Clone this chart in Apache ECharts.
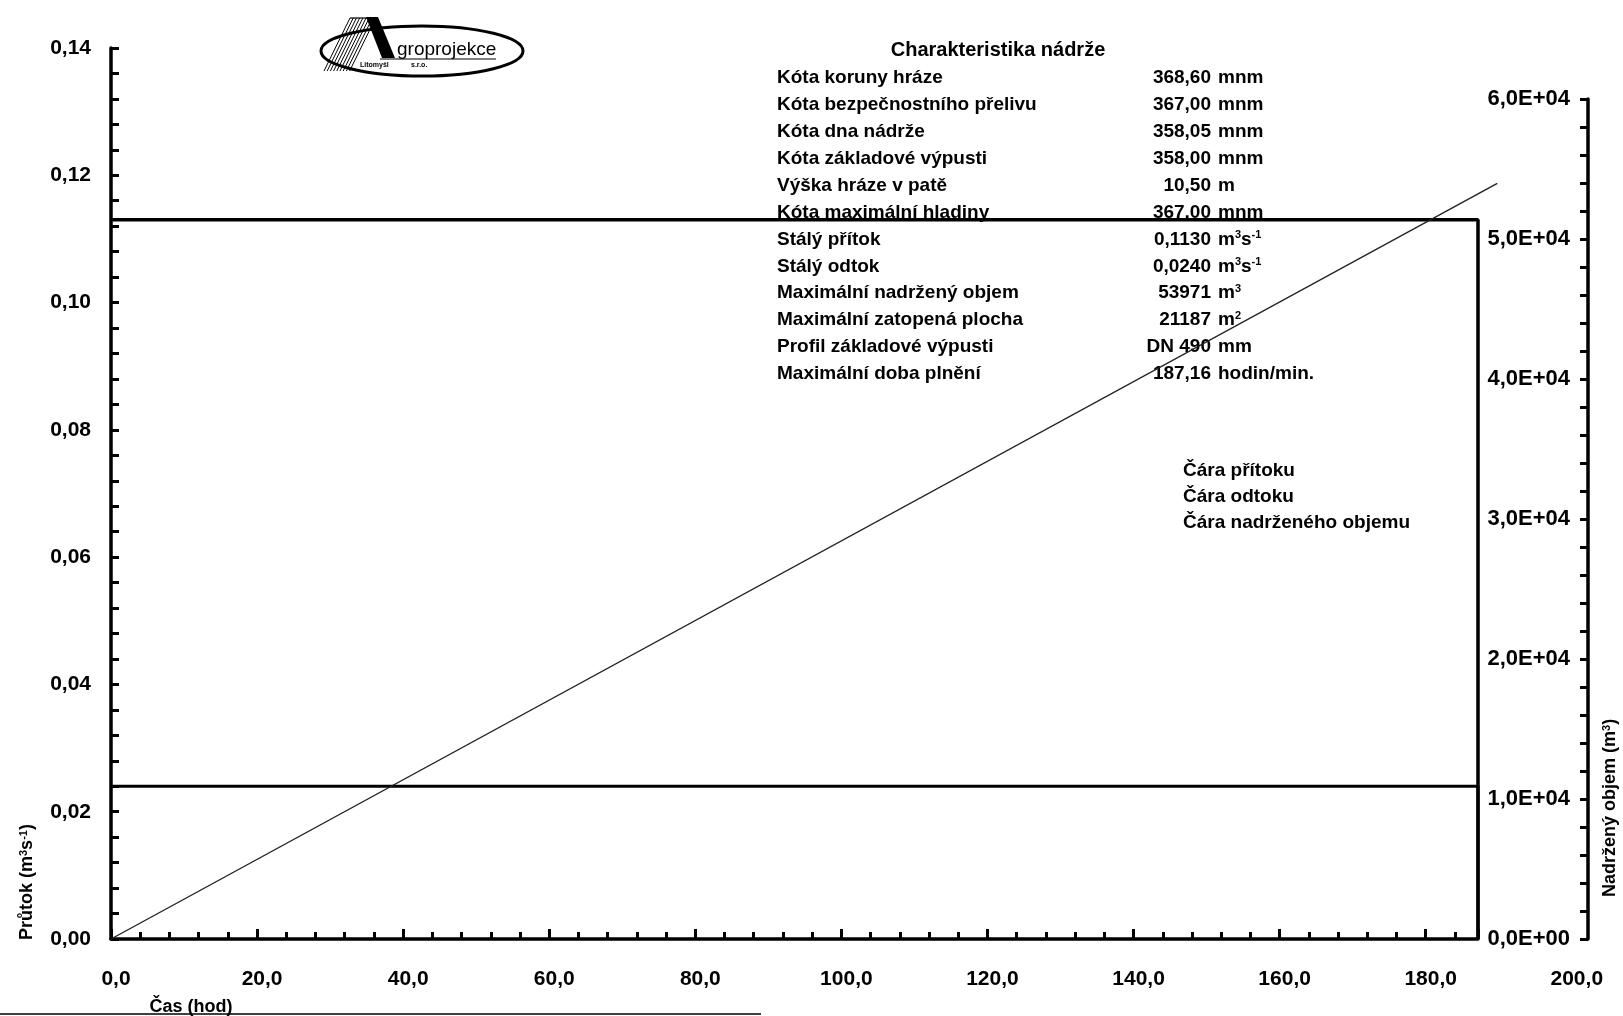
<!DOCTYPE html>
<html><head><meta charset="utf-8">
<script src="https://cdn.jsdelivr.net/npm/echarts@6/dist/echarts.min.js"></script>
<style>html,body{margin:0;padding:0;background:#fff}#c{width:1623px;height:1016px}</style>
</head><body><div id="c"></div>
<script>
// ---------- data ----------
const timeMax = 187.16;                     // h, max filling time
const inflowLine  = [[0, 0.113], [187.16, 0.113], [187.16, 0]];
const outflowLine = [[0, 0.024], [187.16, 0.024], [187.16, 0]];
const volumeLine  = [[0, 0], [189.8, 53971]];
const xTickLabels = ['0,0','20,0','40,0','60,0','80,0','100,0','120,0','140,0','160,0','180,0','200,0'];
const leftTickLabels = ['0,00','0,02','0,04','0,06','0,08','0,10','0,12','0,14'];
const rightTickLabels = ['0,0E+00','1,0E+04','2,0E+04','3,0E+04','4,0E+04','5,0E+04','6,0E+04'];
const legendNames = ['Čára přítoku','Čára odtoku','Čára nadrženého objemu'];
const tableTitle = 'Charakteristika nádrže';
const tableLabels = ['Kóta koruny hráze','Kóta bezpečnostního přelivu','Kóta dna nádrže','Kóta základové výpusti',
  'Výška hráze v patě','Kóta maximální hladiny','Stálý přítok','Stálý odtok','Maximální nadržený objem',
  'Maximální zatopená plocha','Profil základové výpusti','Maximální doba plnění'];
const tableValues = ['368,60','367,00','358,05','358,00','10,50','367,00','0,1130','0,0240','53971','21187','DN 490','187,16'];
const tableUnits = ['mnm','mnm','mnm','mnm','m','mnm','m{s|3}s{s|-1}','m{s|3}s{s|-1}','m{s|3}','m{s|2}','mm','hodin/min.'];

// ---------- layout ----------
const F = '"Liberation Sans", Arial, Helvetica, sans-serif';
const LEFT_X = 111, INNER_X = 1478, RIGHT_X = 1588;
const TOP_L = 48, BOTTOM = 939, TOP_R = 99;
const pxPerH = (INNER_X - LEFT_X) / timeMax;
const labelGridW = 200 * pxPerH;
const rightGridXMax = (RIGHT_X - LEFT_X) / pxPerH;

const sup = {fontSize: 11, fontWeight: 'bold', fontFamily: F, fill: '#000', verticalAlign: 'top', lineHeight: 11};
const txt = (x, y, text, opts) => ({
  type: 'text', x, y, silent: true, z: 50,
  style: Object.assign({text, fill: '#000', fontFamily: F, fontSize: 19, fontWeight: 'bold',
    align: 'left', verticalAlign: 'middle', textAlign: 'left', textVerticalAlign: 'middle',
    rich: {s: sup}}, opts || {})
});

const graphics = [];
graphics.push(txt(998, 50, tableTitle, {align: 'center', textAlign: 'center', fontSize: 20}));
tableLabels.forEach((l, i) => {
  const y = 78 + i * 26.9;
  graphics.push(txt(777, y, l));
  graphics.push(txt(1211, y, tableValues[i], {align: 'right', textAlign: 'right'}));
  graphics.push(txt(1218, y, tableUnits[i]));
});
// axis titles
graphics.push(Object.assign(txt(27, 940, 'Průtok (m{s|3}s{s|-1})', {fontSize: 18}), {rotation: Math.PI / 2}));
graphics.push(Object.assign(txt(1610, 897, 'Nadržený objem (m{s|3})', {fontSize: 18}), {rotation: Math.PI / 2}));
graphics.push(txt(191, 1007, 'Čas (hod)', {align: 'center', textAlign: 'center', fontSize: 18}));
// page border remnant
graphics.push({type: 'line', silent: true, shape: {x1: 0, y1: 1014, x2: 761, y2: 1014}, style: {stroke: '#000', lineWidth: 1.5}});
// logo
graphics.push({type: 'ellipse', silent: true, shape: {cx: 422, cy: 51, rx: 101, ry: 25}, style: {fill: '#fff', stroke: '#000', lineWidth: 3}});
for (let i = 0; i < 9; i++) {
  graphics.push({type: 'line', silent: true, shape: {x1: 350 + i * 3.2, y1: 18, x2: 324 + i * 3.2, y2: 71}, style: {stroke: '#000', lineWidth: 1}});
}
graphics.push({type: 'line', silent: true, shape: {x1: 350, y1: 18, x2: 378, y2: 18}, style: {stroke: '#000', lineWidth: 1.2}});
graphics.push({type: 'polygon', silent: true, shape: {points: [[366, 17], [378, 17], [395, 58], [382, 58]]}, style: {fill: '#000'}});
graphics.push({type: 'text', silent: true, x: 397, y: 50, style: {text: 'groprojekce', fontFamily: F, fontSize: 19, fill: '#000', align: 'left', verticalAlign: 'middle', textAlign: 'left', textVerticalAlign: 'middle'}});
graphics.push({type: 'line', silent: true, shape: {x1: 380, y1: 59, x2: 496, y2: 59}, style: {stroke: '#000', lineWidth: 1}});
graphics.push({type: 'text', silent: true, x: 360, y: 65, style: {text: 'Litomyšl', fontFamily: F, fontSize: 7, fontWeight: 'bold', fill: '#000', align: 'left', verticalAlign: 'middle', textAlign: 'left', textVerticalAlign: 'middle'}});
graphics.push({type: 'text', silent: true, x: 411, y: 65, style: {text: 's.r.o.', fontFamily: F, fontSize: 7, fontWeight: 'bold', fill: '#000', align: 'left', verticalAlign: 'middle', textAlign: 'left', textVerticalAlign: 'middle'}});

const lbl = {fontFamily: F, fontSize: 21, fontWeight: 'bold', color: '#000'};
const blk = (w) => ({color: '#000', width: w});

const option = {
  backgroundColor: '#fff',
  animation: false,
  textStyle: {fontFamily: F},
  grid: [
    {left: LEFT_X, top: TOP_L, width: INNER_X - LEFT_X, height: BOTTOM - TOP_L, outerBoundsMode: 'none', containLabel: false},
    {left: LEFT_X, top: TOP_L, width: labelGridW, height: BOTTOM - TOP_L, outerBoundsMode: 'none', containLabel: false},
    {left: LEFT_X, top: TOP_R, width: RIGHT_X - LEFT_X, height: BOTTOM - TOP_R, outerBoundsMode: 'none', containLabel: false}
  ],
  xAxis: [
    {gridIndex: 0, type: 'value', min: 0, max: timeMax, interval: 4, position: 'bottom',
      axisLine: {show: true, onZero: false, lineStyle: blk(3.5)},
      axisTick: {show: true, inside: true, length: 7, lineStyle: blk(3)},
      axisLabel: {show: false}, splitLine: {show: false}},
    {gridIndex: 0, type: 'value', min: 0, max: timeMax, interval: 20, position: 'bottom',
      axisLine: {show: false, onZero: false},
      axisTick: {show: true, inside: true, length: 10, lineStyle: blk(3)},
      axisLabel: {show: false}, splitLine: {show: false}},
    {gridIndex: 1, type: 'value', min: 0, max: 200, interval: 20, position: 'bottom',
      axisLine: {show: false, onZero: false}, axisTick: {show: false}, splitLine: {show: false},
      axisLabel: Object.assign({margin: 30, padding: [0, 0, 0, 10], formatter: v => xTickLabels[Math.round(v / 20)] || ''}, lbl)},
    {gridIndex: 2, type: 'value', min: 0, max: rightGridXMax, show: false}
  ],
  yAxis: [
    {gridIndex: 0, type: 'value', min: 0, max: 0.14, interval: 0.02, position: 'left',
      axisLine: {show: true, onZero: false, lineStyle: blk(3.5)},
      axisTick: {show: true, inside: true, length: 8, lineStyle: blk(3)},
      minorTick: {show: true, splitNumber: 5, length: 8, lineStyle: blk(3)},
      splitLine: {show: false}, minorSplitLine: {show: false},
      axisLabel: Object.assign({margin: 20, formatter: v => leftTickLabels[Math.round(v / 0.02)] || ''}, lbl)},
    {gridIndex: 1, type: 'value', min: 0, max: 1, show: false},
    {gridIndex: 2, type: 'value', min: 0, max: 60000, interval: 10000, position: 'right',
      axisLine: {show: true, onZero: false, lineStyle: blk(3.5)},
      axisTick: {show: true, inside: true, length: 8, lineStyle: blk(3)},
      minorTick: {show: true, splitNumber: 5, length: 8, lineStyle: blk(3)},
      splitLine: {show: false}, minorSplitLine: {show: false},
      axisLabel: Object.assign({inside: true, margin: 18, formatter: v => rightTickLabels[Math.round(v / 10000)] || ''}, lbl, {fontSize: 22})}
  ],
  legend: {
    data: legendNames, orient: 'vertical', left: 1173, top: 456, icon: 'rect', itemWidth: 0, itemHeight: 0, itemGap: 6,
    selectedMode: false, itemStyle: {opacity: 0}, lineStyle: {opacity: 0},
    textStyle: {fontFamily: F, fontSize: 19, fontWeight: 'bold', color: '#000', lineHeight: 20}
  },
  series: [
    {name: legendNames[0], type: 'line', xAxisIndex: 0, yAxisIndex: 0, data: inflowLine, symbol: 'none', clip: false,
      lineStyle: {color: '#000', width: 3.5}, itemStyle: {color: '#000'}, z: 5},
    {name: legendNames[1], type: 'line', xAxisIndex: 0, yAxisIndex: 0, data: outflowLine, symbol: 'none', clip: false,
      lineStyle: {color: '#000', width: 3}, itemStyle: {color: '#000'}, z: 5},
    {name: legendNames[2], type: 'line', xAxisIndex: 3, yAxisIndex: 2, data: volumeLine, symbol: 'none', clip: false,
      lineStyle: {color: '#222', width: 1.4}, itemStyle: {color: '#222'}, z: 60}
  ],
  graphic: {elements: graphics}
};
const chart = echarts.init(document.getElementById('c'), null, {renderer: 'canvas'});
chart.setOption(option);
</script>
</body></html>
